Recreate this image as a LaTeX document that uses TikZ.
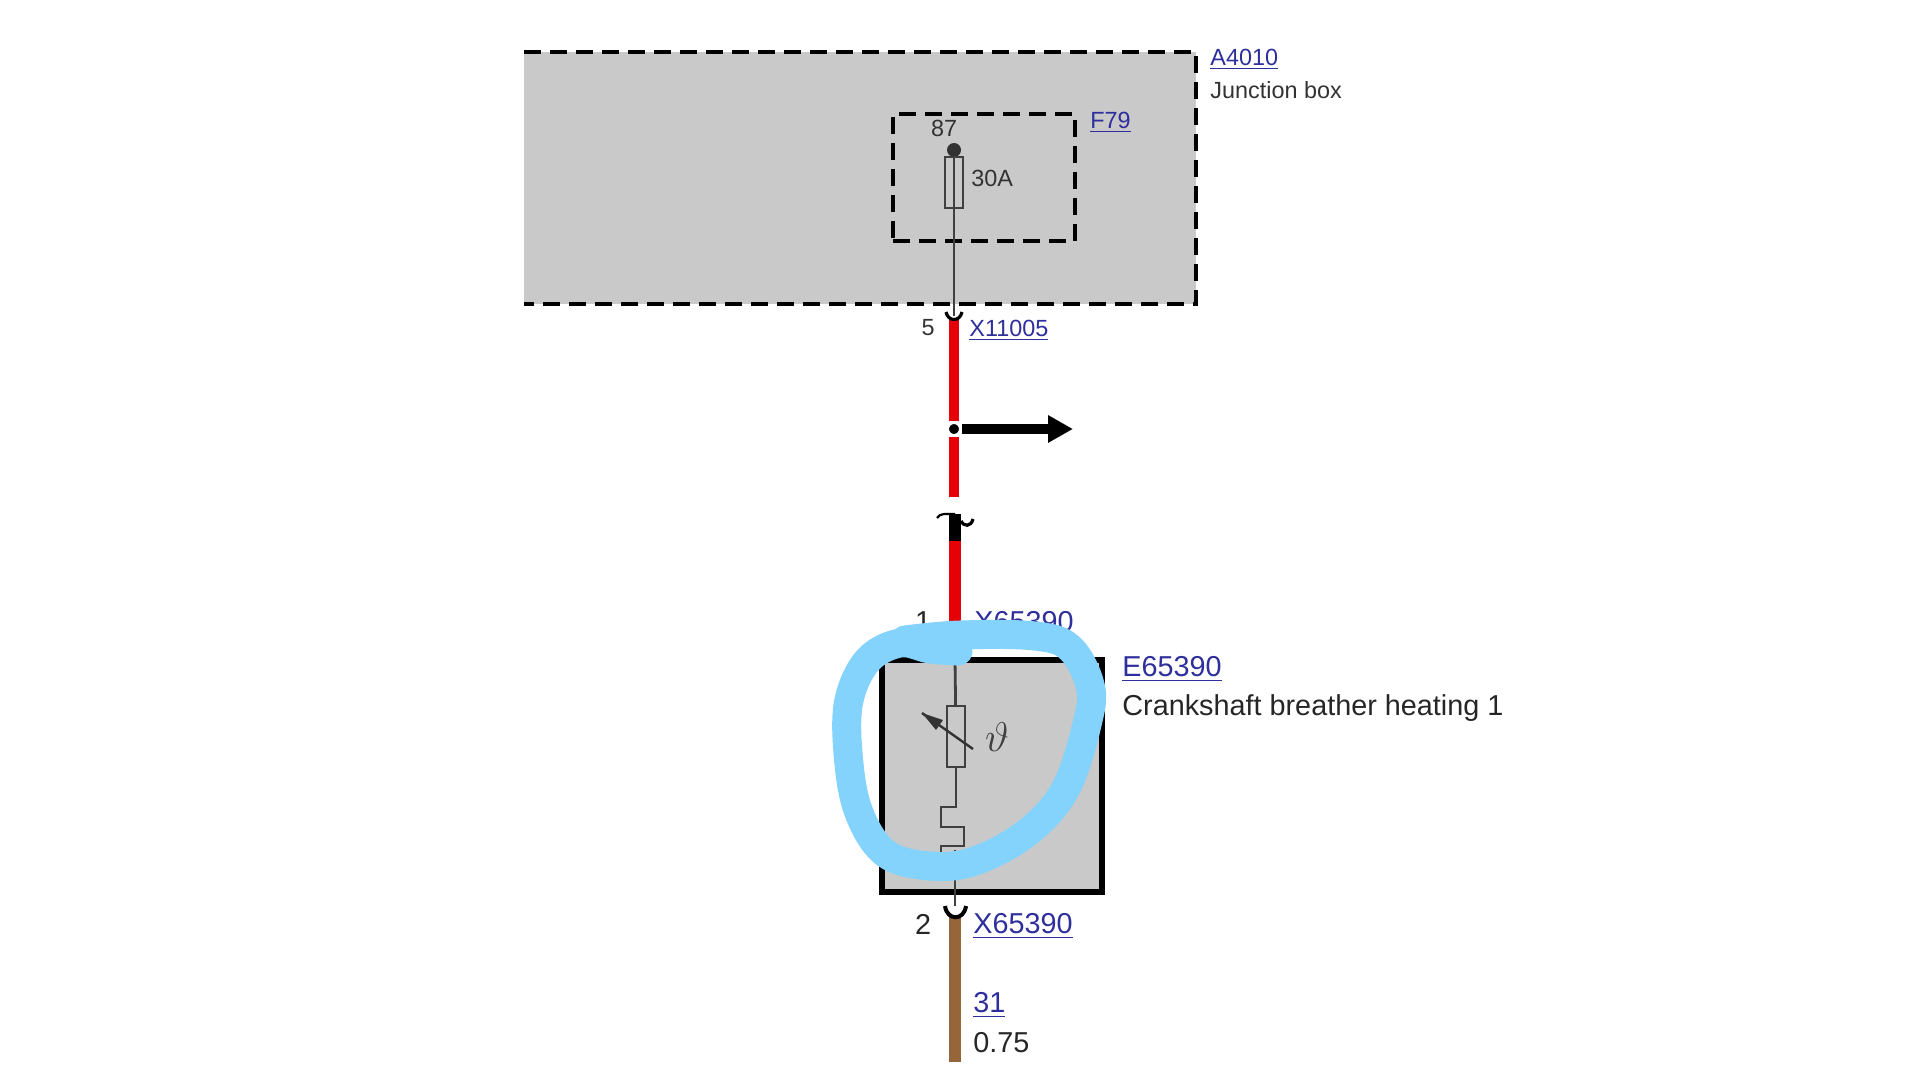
\documentclass[tikz,border=0pt]{standalone}
\usepackage{fontspec}
\setmainfont{Liberation Sans}
\usepackage{tikz}
\usetikzlibrary{arrows.meta}
\usetikzlibrary{positioning}
\definecolor{boxgray}{HTML}{C9C9C9}
\definecolor{wirered}{HTML}{E60008}
\definecolor{wirebrown}{HTML}{94663A}
\definecolor{linkblue}{HTML}{2E2E9C}
\definecolor{penblue}{HTML}{84D3FC}
\definecolor{textgray}{HTML}{333333}
\newcommand{\smalltext}{\fontsize{11.7}{14}\selectfont}
\newcommand{\bigtext}{\fontsize{14.4}{17}\selectfont}
\tikzset{
	lab/.style = {anchor=west, inner sep=0pt, text=textgray, font=\smalltext},
	link/.style = {lab, text=linkblue},
	biglab/.style = {lab, text=black!85, font=\bigtext},
	biglink/.style = {lab, text=linkblue, font=\bigtext},
	dashbox/.style = {draw=black, line width=2.2pt, dash pattern=on 8.5pt off 4.5pt},
	thinwire/.style = {draw=black!75, line width=.9pt},
	heatwire/.style = {draw=black!75, line width=1.4pt},
	part/.style = {draw=black!75, line width=.9pt, rectangle, inner sep=0pt},
	redwire/.style = {draw=wirered, line width=5pt},
	cup/.style = {draw=black, line width=1.6pt}
}
\begin{document}
\begin{tikzpicture}[x=.5pt, y=-.5pt]
	\useasboundingbox (0,0) rectangle (1920,1080);

	% junction box
	\coordinate (NW) at (524,52);
	\coordinate (NE) at (1196,52);
	\coordinate (SE) at (1196,304);
	\coordinate (SW) at (524,304);
	\fill[boxgray] (NW) rectangle (SE);
	\draw[dashbox] (NW) -- (NE) -- (SE) -- (SW);
	\node[dashbox, rectangle, minimum width=91pt, minimum height=63.5pt, inner sep=0pt] (F79box) at (984,177.5) {};

	% fuse
	\node[circle, fill=black!80, inner sep=0pt, minimum size=7pt] (pin87) at (954,150) {};
	\node[part, minimum width=9pt, minimum height=25.5pt] (fuse) at (954,182.5) {};
	\coordinate (top5) at (954,316);
	\draw[thinwire] (pin87) -- (top5);

	% wire to the junction
	\coordinate (cupL) at (946,312);
	\coordinate (cupR) at (962,312);
	\coordinate (red5) at (954,318);
	\coordinate (redEnd) at (954,497);
	\coordinate (arrowEnd) at (1073,429);
	\node[circle, fill=black, draw=white, line width=1.5pt, inner sep=0pt, minimum size=6.5pt] (splice) at (954,429) {};
	\draw[redwire] (red5) -- (splice);
	\draw[redwire] (splice) -- (redEnd);
	\draw[cup] (cupL) .. controls (948,322) and (960,322) .. (cupR);
	\draw[line width=5pt, -{Triangle[length=12.5pt,width=13pt]}] (splice) -- (arrowEnd);

	% broken connector
	\coordinate (stubTop) at (955,514);
	\coordinate (stubEnd) at (955,541);
	\coordinate (redBottom) at (955,640);
	\draw[redwire, line width=6pt] (stubEnd) -- (redBottom);
	\draw[line width=6pt] (stubTop) -- (stubEnd);
	\coordinate (hookL) at (937,518);
	\coordinate (hookR) at (973,519);
	\draw[line width=1.1pt] (hookL) .. controls (940,513) and (945,514) .. (stubTop);
	\draw[cup] (961,521) .. controls (964,527) and (971,527) .. (hookR);

	% heater box
	\node[draw=black, fill=boxgray, line width=3.2pt, rectangle, minimum width=110pt, minimum height=116pt, inner sep=0pt] (E65390) at (992,776) {};
	\coordinate (boxTop) at (955,660);
	\node[part, line width=1.2pt, minimum width=9pt, minimum height=30.5pt] (ptc) at (956,736.5) {};
	\coordinate (stepA) at (956,807);
	\coordinate (wireBottom) at (955,906);
	\draw[heatwire] (boxTop) -- (ptc);
	\draw[heatwire] (ptc) -- (stepA) -- (941,807) -- (941,827) -- (964,827) -- (964,846) -- (941,846) -- (941,860);
	\draw[heatwire] (955,850) -- (wireBottom);
	\coordinate (slopeA) at (922,713);
	\coordinate (slopeB) at (973,749);
	\draw[draw=black!80, line width=1.2pt] (slopeB) -- (slopeA);
	\fill[black!80] (922,713) -- (943,720) -- (936,730) -- cycle;
	\node[inner sep=0pt, text=black!75, font=\fontsize{21}{24}\selectfont] (theta) at (997,737) {$\vartheta$};

	% brown wire
	\coordinate (brownTop) at (955,917);
	\coordinate (brownEnd) at (955,1062);
	\draw[draw=wirebrown, line width=6.2pt] (brownTop) -- (brownEnd);
	\coordinate (cupC) at (945,906);
	\coordinate (cupD) at (966,906);
	\draw[cup, line width=2pt] (cupC) .. controls (947,921) and (964,921) .. (cupD);

	% labels
	\node[link] (A4010) at (1210,59) {\underline{A4010}};
	\node[lab] (junction) at (1210,90) {Junction box};
	\node[link] (F79) at (1090,122) {\underline{F79}};
	\node[lab, anchor=center] (n87) at (944,128) {87};
	\node[lab] (amps) at (971,178) {30A};
	\node[lab, anchor=center] (n5) at (928,328) {5};
	\node[link] (X11005) at (969,330) {\underline{X11005}};
	\node[biglab, anchor=center] (n1) at (923,622) {1};
	\node[biglink] (X65390a) at (974,622) {X65390};
	\node[biglink] (E65390lab) at (1122,669) {\underline{E65390}};
	\node[biglab] (heating) at (1122,708) {Crankshaft breather heating 1};
	\node[biglab, anchor=center] (n2) at (923,924) {2};
	\node[biglink] (X65390b) at (973,926) {\underline{X65390}};
	\node[biglink] (n31) at (973,1005) {\underline{31}};
	\node[biglab] (size) at (973,1043) {0.75};

	% pen mark
	\draw[draw=penblue, line width=14.5pt, line cap=round, line join=round] plot[smooth, tension=.6] coordinates {(958,651) (930,649) (900,643) (868,660) (849,700) (848,753) (858,810) (885,853) (930,866) (975,861) (1028,832) (1066,788) (1088,720) (1090,685) (1070,648) (1035,636) (960,635) (905,640)};
\end{tikzpicture}
\end{document}
